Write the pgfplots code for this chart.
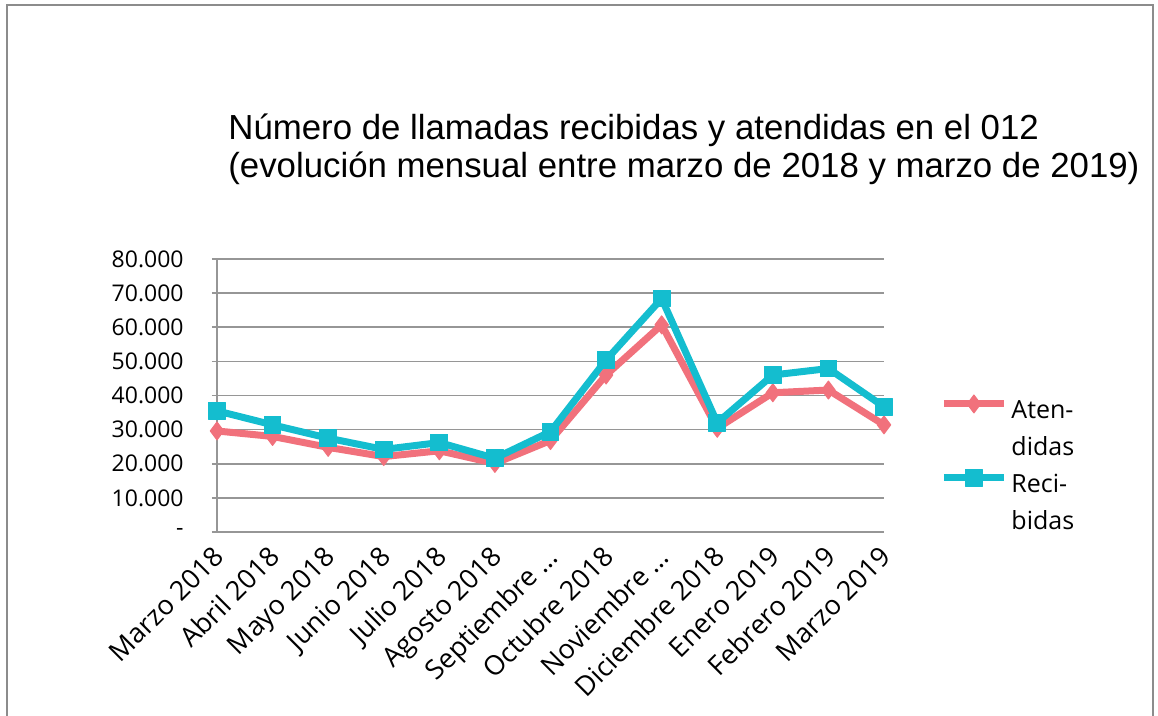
\documentclass[border=0pt]{standalone}
\usepackage{fontspec}
\setmainfont{Open Sans}
\newfontfamily\titlefont{Liberation Sans}
\usepackage{pgfplots}
\pgfplotsset{compat=1.18}
\definecolor{aten}{RGB}{241,113,124}
\definecolor{reci}{RGB}{20,189,207}
\definecolor{gridc}{RGB}{150,150,150}
\definecolor{framec}{RGB}{140,140,140}

\begin{document}
\begin{tikzpicture}
% 1 px of the reference = 0.5pt, origin at the lower left corner of the plot area
\useasboundingbox (-108.5pt,-92pt) rectangle (470.5pt,266pt);
\draw[framec, line width=0.8pt] (-105pt,-95pt) -- (-105pt,263.5pt) -- (468pt,263.5pt) -- (468pt,-95pt);
\node[anchor=base west, inner sep=0pt, font=\titlefont\fontsize{17.4}{20}\selectfont] at (5.5pt,196pt)
  {Número de llamadas recibidas y atendidas en el 012};
\node[anchor=base west, inner sep=0pt, font=\titlefont\fontsize{17.4}{20}\selectfont] at (5.5pt,177pt)
  {(evolución mensual entre marzo de 2018 y marzo de 2019)};

\begin{axis}[
  at={(0pt,0pt)}, anchor=south west,
  scale only axis, width=333.5pt, height=136.5pt,
  xmin=0, xmax=12, ymin=0, ymax=80000,
  axis x line=bottom, axis y line=left,
  axis line style={-, gridc, line width=0.8pt},
  xtick={0,...,12},
  xticklabels={Marzo 2018, Abril 2018, Mayo 2018, Junio 2018, Julio 2018, Agosto 2018,
    Septiembre …, Octubre 2018, Noviembre …, Diciembre 2018, Enero 2019, Febrero 2019, Marzo 2019},
  ytick={0,10000,...,80000},
  yticklabels={-,10.000,20.000,30.000,40.000,50.000,60.000,70.000,80.000},
  scaled y ticks=false,
  xtick style={draw=none},
  ytick style={gridc, line width=0.8pt},
  tick align=outside, major tick length=2.5pt,
  ymajorgrids, grid style={gridc, line width=0.8pt},
  yticklabel style={font=\fontsize{11.5}{13}\selectfont, anchor=east, inner sep=0pt, xshift=-14pt},
  xticklabel style={font=\fontsize{13.5}{15}\selectfont, inner sep=0pt, xshift=-2.75pt, yshift=-3.5pt, rotate=45, anchor=north east},
  clip=false,
  legend style={at={(1.084,0.253)}, anchor=west, draw=none, fill=none,
    font=\fontsize{12.5}{18.5}\selectfont, inner sep=0pt, row sep=0pt,
    cells={anchor=west, align=left}},
  legend image code/.code={%
    \path (0pt,-11pt) (30pt,11pt);
    \draw[mark repeat=2, mark phase=2, #1] plot coordinates {(0pt,11pt) (15pt,11pt) (30pt,11pt)};},
]
\addplot[aten, line width=3.5pt, line join=round, mark=diamond*, mark size=4.5pt, mark options={solid, line width=0.5pt}] coordinates {
  (0,29600) (1,28000) (2,24800) (3,22100) (4,23800) (5,20100) (6,26800)
  (7,46000) (8,60700) (9,30400) (10,40800) (11,41600) (12,31400)
};
\addlegendentry{\strut Aten-\\\strut didas}
\addplot[reci, line width=3.5pt, line join=round, mark=square*, mark size=4.2pt, mark options={solid, line width=0.5pt}] coordinates {
  (0,35500) (1,31400) (2,27500) (3,24200) (4,26200) (5,21600) (6,29400)
  (7,50400) (8,68400) (9,32000) (10,46000) (11,47900) (12,36700)
};
\addlegendentry{\strut Reci-\\\strut bidas}
\end{axis}
\end{tikzpicture}
\end{document}
